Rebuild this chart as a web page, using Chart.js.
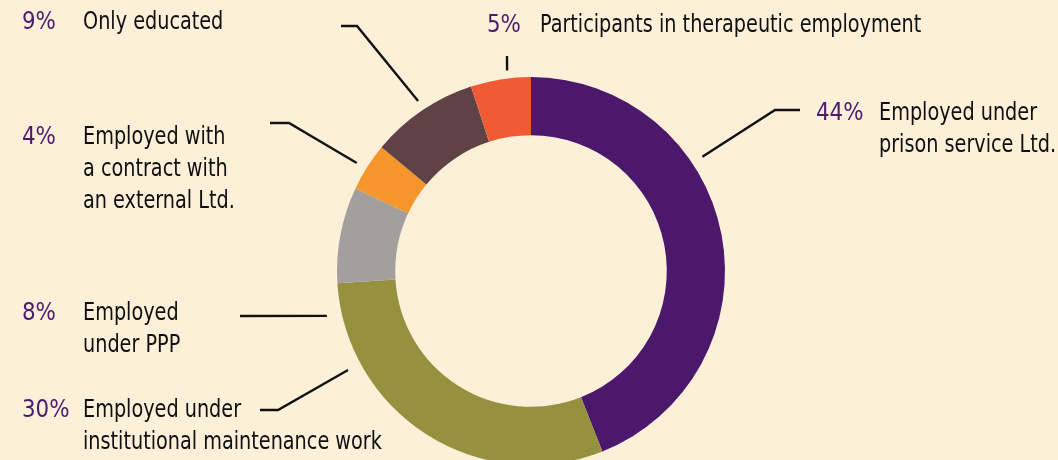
<!DOCTYPE html>
<html>
<head>
<meta charset="utf-8">
<script src="https://cdn.jsdelivr.net/npm/chart.js@4"></script>
<style>
  html, body { margin: 0; padding: 0; background: #fdf0d9; }
  #wrap { width: 1058px; height: 460px; overflow: hidden; position: relative; }
</style>
</head>
<body>
<div id="wrap"><canvas id="grafico" width="1058" height="480"></canvas></div>
<script>
// dados do grafico (sentido horario a partir do topo)
const categorias = [
  ['Employed under', 'prison service Ltd.'],
  ['Employed under', 'institutional maintenance work'],
  ['Employed', 'under PPP'],
  ['Employed with', 'a contract with', 'an external Ltd.'],
  ['Only educated'],
  ['Participants in therapeutic employment']
];
const valores = [44, 30, 8, 4, 9, 5];
const rotulosPct = ['44%', '30%', '8%', '4%', '9%', '5%'];
const cores = ['#4b186c', '#95913f', '#a39f9f', '#f7952d', '#5e4245', '#f05a34'];

// posicao dos textos e linhas de chamada (layout)
// pct: x do percentual, txt: x do texto, y: centro da primeira linha
// ang/r: inicio da linha no anel, pontos: cotovelo e fim
const rotulos = [
  { pct: 816, txt: 879, y: 113, ang: 56.3, r: 206, pontos: [[775, 110], [800, 110]] },
  { pct: 22, txt: 83, y: 410, ang: 241.6, r: 208, pontos: [[278, 410], [260, 410]] },
  { pct: 22, txt: 83, y: 313, ang: 257.6, r: 209, pontos: [[240, 316]] },
  { pct: 22, txt: 83, y: 137, ang: 301.8, r: 205, pontos: [[289, 123], [270, 123]] },
  { pct: 22, txt: 83, y: 22, ang: 326.4, r: 204, pontos: [[357, 26], [341, 26]] },
  { pct: 487, txt: 540, y: 25, ang: 353.2, r: 202, pontos: [[507, 56]] }
];

const fonte = '25px "DejaVu Sans Condensed", "DejaVu Sans", sans-serif';
const aperto = 0.855; // compressao horizontal do texto
const apertoPct = 0.95;
const alturaLinha = 32;

function escrever(ctx, texto, x, y, escala) {
  ctx.save();
  ctx.translate(x, y);
  ctx.scale(escala, 1);
  ctx.fillText(texto, 0, 0);
  ctx.restore();
}

const pluginRotulos = {
  id: 'rotulos',
  afterDraw(chart) {
    const ctx = chart.ctx;
    const arco = chart.getDatasetMeta(0).data[0];
    const cx = arco.x, cy = arco.y, R = arco.outerRadius;
    ctx.save();
    // linhas de chamada
    ctx.strokeStyle = '#111111';
    ctx.lineWidth = 2.4;
    ctx.lineJoin = 'miter';
    rotulos.forEach(function (l) {
      const a = l.ang * Math.PI / 180;
      const r = R + (l.r - 194);
      ctx.beginPath();
      ctx.moveTo(cx + r * Math.sin(a), cy - r * Math.cos(a));
      l.pontos.forEach(function (p) { ctx.lineTo(p[0], p[1]); });
      ctx.stroke();
    });
    // textos
    ctx.font = fonte;
    ctx.textBaseline = 'middle';
    ctx.textAlign = 'left';
    rotulos.forEach(function (l, i) {
      ctx.fillStyle = '#4b1a6e';
      escrever(ctx, rotulosPct[i], l.pct, l.y, apertoPct);
      ctx.fillStyle = '#0f0f0f';
      categorias[i].forEach(function (linha, j) {
        escrever(ctx, linha, l.txt, l.y + j * alturaLinha, aperto);
      });
    });
    ctx.restore();
  }
};

const ctx = document.getElementById('grafico').getContext('2d');
const grafico = new Chart(ctx, {
  type: 'doughnut',
  data: {
    labels: categorias.map(function (c) { return c.join(' '); }),
    datasets: [{
      data: valores,
      backgroundColor: cores,
      borderWidth: 0,
      hoverOffset: 0
    }]
  },
  options: {
    responsive: false,
    animation: false,
    cutout: '70%',
    layout: { padding: { top: 77, bottom: 15, left: 4, right: 0 } },
    plugins: {
      legend: { display: false },
      tooltip: { enabled: false }
    }
  },
  plugins: [pluginRotulos]
});
</script>
</body>
</html>
